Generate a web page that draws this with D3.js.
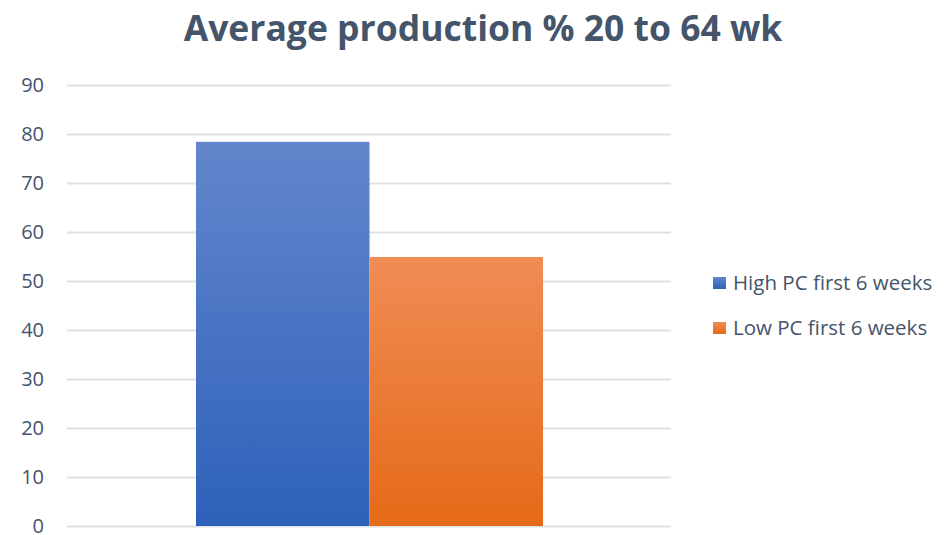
<!DOCTYPE html>
<html>
<head>
<meta charset="utf-8">
<script src="https://cdn.jsdelivr.net/npm/d3@7"></script>
<style>
  html, body { margin: 0; padding: 0; background: #fff; }
  svg { display: block; }
  text { font-family: "Open Sans", "Noto Sans", sans-serif; fill: #44546A; }
</style>
</head>
<body>
<svg id="chart" width="947" height="535"></svg>
<script>
// Series and their values
const seriesNames = ["High PC first 6 weeks", "Low PC first 6 weeks"];
const seriesValues = [78.4, 54.9];
const yTicks = [0, 10, 20, 30, 40, 50, 60, 70, 80, 90];
const chartTitle = "Average production % 20 to 64 wk";

const gradients = [
  { top: "#6386CC", bottom: "#2D61BA" },
  { top: "#F08C55", bottom: "#E56A18" }
];

const svg = d3.select("#chart");
const plot = { left: 67, right: 671, top: 85, bottom: 526 };

const y = d3.scaleLinear().domain([0, 90]).range([plot.bottom, plot.top]);
const x = d3.scaleBand().domain(seriesNames).range([196, 543]).padding(0);

const defs = svg.append("defs");
gradients.forEach((g, i) => {
  const lg = defs.append("linearGradient")
    .attr("id", "grad" + i).attr("x1", 0).attr("y1", 0).attr("x2", 0).attr("y2", 1);
  lg.append("stop").attr("offset", "0%").attr("stop-color", g.top);
  lg.append("stop").attr("offset", "100%").attr("stop-color", g.bottom);
});

// Title
svg.append("text")
  .attr("x", 483).attr("y", 41)
  .attr("text-anchor", "middle")
  .style("font-size", "35.5px").style("font-weight", "bold")
  .text(chartTitle);

// Gridlines and y-axis labels
const yAxis = d3.axisLeft(y).tickValues(yTicks).tickSize(-(plot.right - plot.left)).tickPadding(23);
const ga = svg.append("g").attr("transform", `translate(${plot.left},0)`).call(yAxis);
ga.select(".domain").remove();
ga.selectAll(".tick line").attr("stroke", "#DDE2E8").attr("stroke-width", 2);
ga.selectAll(".tick text")
  .attr("fill", "#44546A")
  .attr("dy", "0.3em")
  .style("font-size", "20px")
  .style("font-family", "'Open Sans', 'Noto Sans', sans-serif");

// Bars
svg.append("g").selectAll("rect")
  .data(seriesValues)
  .join("rect")
  .attr("x", (d, i) => x(seriesNames[i]))
  .attr("width", x.bandwidth())
  .attr("y", d => y(d))
  .attr("height", d => y(0) - y(d))
  .attr("fill", (d, i) => `url(#grad${i})`);

// Legend
const legend = svg.append("g");
seriesNames.forEach((name, i) => {
  const ly = 283 + i * 45;
  legend.append("rect")
    .attr("x", 713).attr("y", ly - 6).attr("width", 13).attr("height", 12)
    .attr("fill", `url(#grad${i})`);
  legend.append("text")
    .attr("x", 733).attr("y", ly + 7)
    .style("font-size", "20.5px")
    .text(name);
});
</script>
</body>
</html>
